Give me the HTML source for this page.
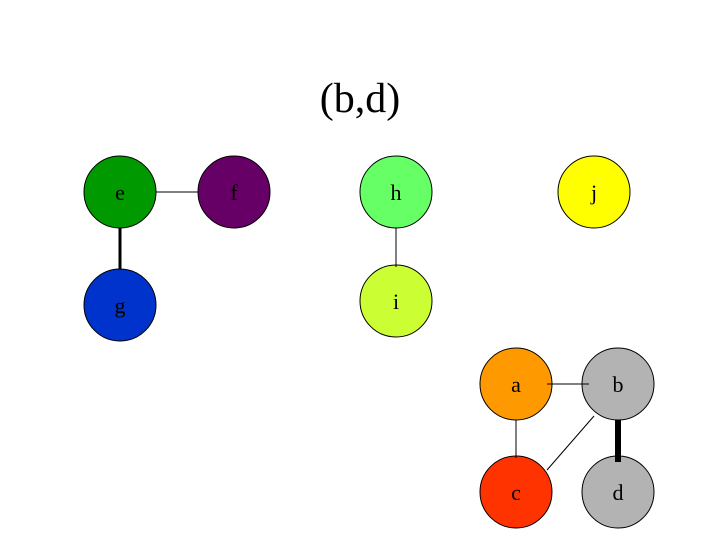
<!DOCTYPE html>
<html><head><style>body{margin:0;background:#fff}svg{display:block}</style></head><body>
<svg width="720" height="540" viewBox="0 0 720 540" xmlns="http://www.w3.org/2000/svg" font-family="Liberation Serif, serif">
<text x="360" y="112" font-size="42" text-anchor="middle">(b,d)</text>
<g stroke="#000" stroke-width="1">
<circle cx="120" cy="192" r="36" fill="#009900"/>
<circle cx="234" cy="192" r="36" fill="#660066"/>
<circle cx="396" cy="192" r="36" fill="#66ff66"/>
<circle cx="594" cy="192" r="36" fill="#ffff00"/>
<circle cx="120" cy="305" r="36" fill="#0033cc"/>
<circle cx="396" cy="301" r="36" fill="#ccff33"/>
<circle cx="516" cy="384" r="36" fill="#ff9900"/>
<circle cx="618" cy="384" r="36" fill="#b3b3b3"/>
<circle cx="516" cy="492" r="36" fill="#ff3300"/>
<circle cx="618" cy="492" r="36" fill="#b3b3b3"/>
</g>
<g stroke="#000">
<line x1="156" y1="192" x2="198" y2="192" stroke-width="1"/>
<line x1="120" y1="228" x2="120" y2="269" stroke-width="3"/>
<line x1="396" y1="228" x2="396" y2="267" stroke-width="1"/>
<line x1="547" y1="384" x2="589" y2="384" stroke-width="1"/>
<line x1="516" y1="420" x2="516" y2="458" stroke-width="1"/>
<line x1="594" y1="416" x2="547" y2="470" stroke-width="1"/>
<line x1="618" y1="420" x2="618" y2="462" stroke-width="6"/>
</g>
<g font-size="22" text-anchor="middle">
<text x="120" y="200">e</text><text x="234" y="200">f</text><text x="396" y="200">h</text><text x="594" y="200">j</text>
<text x="120" y="313">g</text><text x="396" y="309">i</text>
<text x="516" y="392">a</text><text x="618" y="392">b</text><text x="516" y="500">c</text><text x="618" y="500">d</text>
</g>
</svg>
</body></html>
